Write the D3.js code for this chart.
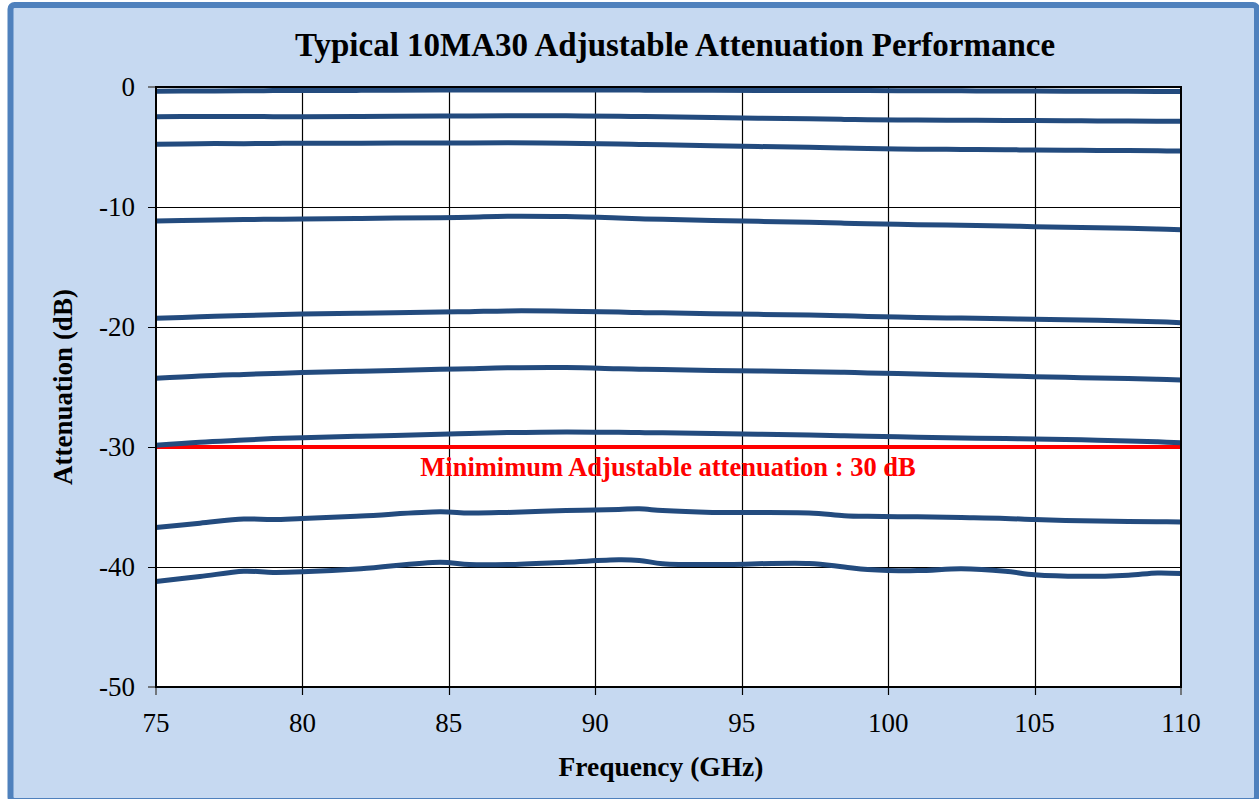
<!DOCTYPE html>
<html><head><meta charset="utf-8">
<script src="https://cdn.jsdelivr.net/npm/d3@7"></script>
<style>html,body{margin:0;padding:0;background:#fff;}svg{display:block;}</style>
</head><body>
<svg id="chart" width="1259" height="799"></svg>
<script>
const title = "Typical 10MA30 Adjustable Attenuation Performance";
const xLabel = "Frequency (GHz)";
const yLabel = "Attenuation (dB)";
const minLabel = "Minimimum Adjustable attenuation : 30 dB";
const minLevel = -30;
const xTicks = [75, 80, 85, 90, 95, 100, 105, 110];
const yTicks = [0, -10, -20, -30, -40, -50];
const freq = [75, 76.5, 78, 79, 80, 82, 84.7, 85.7, 87, 89, 90.8, 91.5, 92.3, 94, 97.3, 98.5, 99.3, 101, 102.5, 104, 105, 106.6, 108.2, 109.2, 110];
const s1 = [-0.35,-0.33,-0.32,-0.3,-0.3,-0.28,-0.25,-0.25,-0.25,-0.25,-0.25,-0.26,-0.27,-0.28,-0.3,-0.3,-0.3,-0.31,-0.32,-0.33,-0.34,-0.35,-0.36,-0.37,-0.38];
const s2 = [-2.47,-2.45,-2.46,-2.47,-2.47,-2.45,-2.42,-2.41,-2.39,-2.4,-2.44,-2.46,-2.48,-2.55,-2.65,-2.7,-2.73,-2.76,-2.77,-2.79,-2.8,-2.82,-2.84,-2.85,-2.86];
const s3 = [-4.78,-4.72,-4.72,-4.7,-4.69,-4.68,-4.67,-4.66,-4.64,-4.68,-4.76,-4.79,-4.82,-4.9,-5.03,-5.08,-5.12,-5.18,-5.2,-5.23,-5.25,-5.28,-5.3,-5.32,-5.33];
const s4 = [-11.17,-11.1,-11.05,-11.02,-11.0,-10.95,-10.89,-10.85,-10.77,-10.8,-10.92,-10.98,-11.03,-11.12,-11.28,-11.35,-11.4,-11.47,-11.52,-11.58,-11.64,-11.7,-11.78,-11.84,-11.89];
const s5 = [-19.28,-19.15,-19.05,-18.98,-18.92,-18.85,-18.75,-18.72,-18.66,-18.68,-18.76,-18.8,-18.82,-18.9,-19.0,-19.07,-19.12,-19.2,-19.26,-19.32,-19.36,-19.42,-19.5,-19.56,-19.64];
const s6 = [-24.28,-24.08,-23.95,-23.87,-23.8,-23.68,-23.53,-23.47,-23.4,-23.38,-23.48,-23.52,-23.55,-23.62,-23.72,-23.78,-23.83,-23.92,-24.0,-24.08,-24.14,-24.22,-24.3,-24.36,-24.42];
const s7 = [-29.86,-29.6,-29.42,-29.3,-29.22,-29.1,-28.94,-28.88,-28.8,-28.74,-28.78,-28.8,-28.82,-28.88,-29.0,-29.06,-29.1,-29.18,-29.24,-29.3,-29.33,-29.4,-29.5,-29.57,-29.64];
const s8 = [-36.7,-36.35,-36.0,-36.05,-35.95,-35.75,-35.4,-35.5,-35.45,-35.3,-35.2,-35.15,-35.3,-35.45,-35.5,-35.72,-35.78,-35.82,-35.88,-35.95,-36.05,-36.15,-36.2,-36.22,-36.25];
const s9 = [-41.2,-40.8,-40.35,-40.45,-40.4,-40.15,-39.6,-39.8,-39.8,-39.6,-39.4,-39.45,-39.72,-39.8,-39.7,-40.0,-40.2,-40.3,-40.15,-40.35,-40.65,-40.78,-40.68,-40.5,-40.55];
const series = [s1, s2, s3, s4, s5, s6, s7, s8, s9];

const svg = d3.select("#chart");
const W = 1259, H = 799;
const m = {left:156, right:1181, top:87, bottom:687};
const serif = "Liberation Serif, Times New Roman, serif";

svg.append("rect").attr("x",0).attr("y",0).attr("width",W).attr("height",H).attr("fill","#ffffff");
svg.append("rect").attr("x",10.5).attr("y",5).attr("width",1246.5).attr("height",796)
  .attr("rx",4).attr("fill","#c6d9f1").attr("stroke","#4f81bd").attr("stroke-width",6);

const x = d3.scaleLinear().domain([75,110]).range([m.left,m.right]);
const y = d3.scaleLinear().domain([-50,0]).range([m.bottom,m.top]);

svg.append("rect").attr("x",m.left).attr("y",m.top).attr("width",m.right-m.left).attr("height",m.bottom-m.top).attr("fill","#fff");

// grid
const g = svg.append("g");
g.selectAll("line.vx").data(xTicks.slice(1,-1)).join("line")
  .attr("x1",d=>Math.round(x(d))+0.5).attr("x2",d=>Math.round(x(d))+0.5)
  .attr("y1",m.top).attr("y2",m.bottom+8).attr("stroke","#000").attr("stroke-width",1.2);
g.selectAll("line.hy").data(yTicks.slice(1,-1)).join("line")
  .attr("y1",d=>Math.round(y(d))+0.5).attr("y2",d=>Math.round(y(d))+0.5)
  .attr("x1",m.left-8).attr("x2",m.right).attr("stroke","#000").attr("stroke-width",1.2);
// outer ticks
g.selectAll("line.t1").data([0,-50]).join("line")
  .attr("y1",d=>y(d)).attr("y2",d=>y(d)).attr("x1",m.left-8).attr("x2",m.left).attr("stroke","#555").attr("stroke-width",1.5);
g.selectAll("line.t2").data([75,110]).join("line")
  .attr("x1",d=>x(d)).attr("x2",d=>x(d)).attr("y1",m.bottom).attr("y2",m.bottom+8).attr("stroke","#555").attr("stroke-width",1.5);

// tick labels
svg.append("g").selectAll("text").data(yTicks).join("text")
  .attr("x",m.left-21).attr("y",d=>y(d)+9).attr("text-anchor","end")
  .attr("font-family",serif).attr("font-size",27).attr("fill","#000").text(d=>d);
svg.append("g").selectAll("text").data(xTicks).join("text")
  .attr("x",d=>x(d)).attr("y",m.bottom+45).attr("text-anchor","middle")
  .attr("font-family",serif).attr("font-size",27).attr("fill","#000").text(d=>d);

// min line
svg.append("line").attr("x1",x(75)).attr("x2",x(110)).attr("y1",y(minLevel)).attr("y2",y(minLevel))
  .attr("stroke","#ff0000").attr("stroke-width",4);

// series
const line = d3.line().x((d,i)=>x(freq[i])).y(d=>y(d)).curve(d3.curveCatmullRom.alpha(0.5));
svg.append("g").selectAll("path").data(series).join("path")
  .attr("d",line).attr("fill","none").attr("stroke","#234b7e").attr("stroke-width",5).attr("stroke-linecap","butt");

// frame
svg.append("rect").attr("x",m.left).attr("y",m.top).attr("width",m.right-m.left).attr("height",m.bottom-m.top)
  .attr("fill","none").attr("stroke","#000").attr("stroke-width",2);

svg.append("text").attr("x",668).attr("y",476).attr("text-anchor","middle")
  .attr("font-family",serif).attr("font-weight","bold").attr("font-size",26.5).attr("fill","#ff0000").text(minLabel);

svg.append("text").attr("x",675).attr("y",56).attr("text-anchor","middle")
  .attr("font-family",serif).attr("font-weight","bold").attr("font-size",33).attr("fill","#000").text(title);
svg.append("text").attr("x",661).attr("y",776).attr("text-anchor","middle")
  .attr("font-family",serif).attr("font-weight","bold").attr("font-size",27.5).attr("fill","#000").text(xLabel);
svg.append("text").attr("transform","translate(72,387) rotate(-90)").attr("text-anchor","middle")
  .attr("font-family",serif).attr("font-weight","bold").attr("font-size",27).attr("fill","#000").text(yLabel);
</script>
</body></html>
